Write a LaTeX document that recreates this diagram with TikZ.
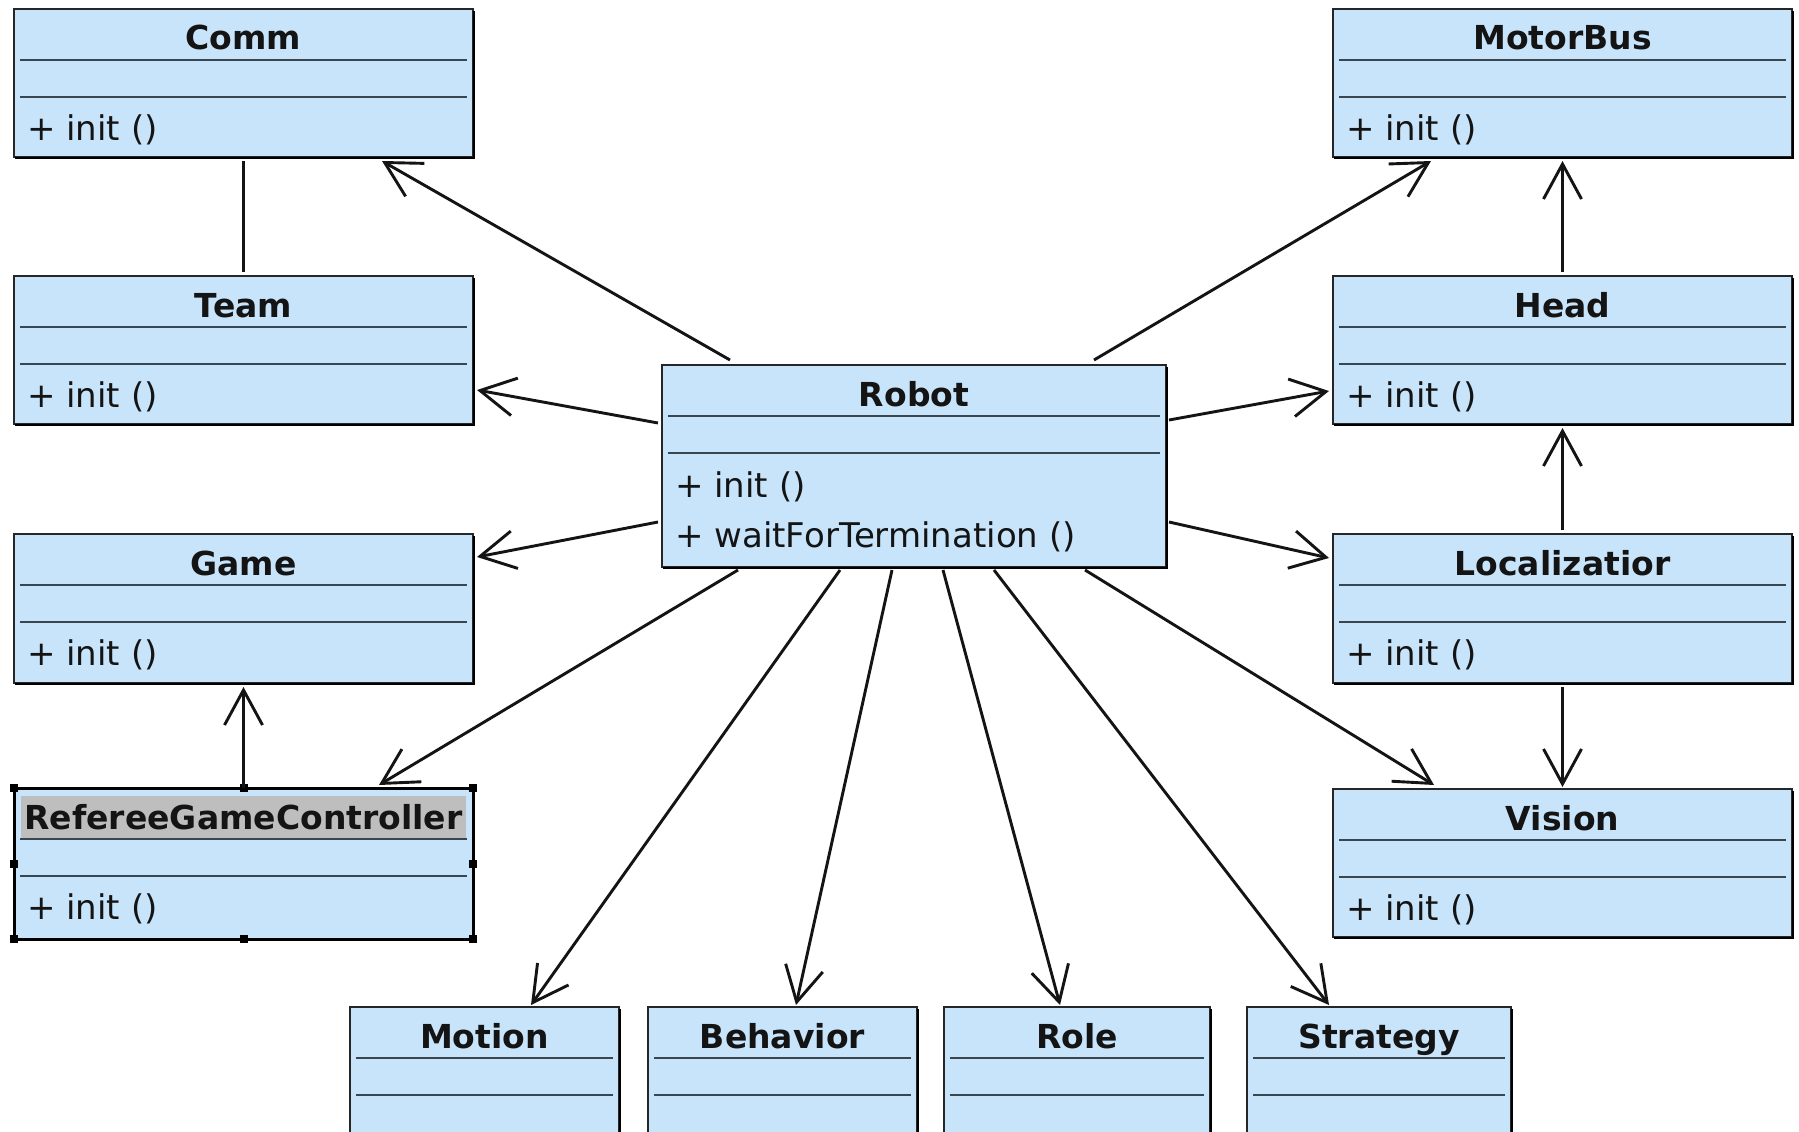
\documentclass[tikz,border=0pt]{standalone}
\usepackage{fontspec}
\setmainfont{DejaVu Sans}
\usetikzlibrary{arrows.meta,calc}

\definecolor{boxfill}{RGB}{199,228,251}
\definecolor{boxline}{RGB}{38,38,38}
\definecolor{divline}{RGB}{58,70,78}
\definecolor{hlgray}{RGB}{190,190,190}
\definecolor{ink}{RGB}{20,20,20}

% UML class box: [title options]{name}{left}{top}{width}{height}{title}
\newcommand\classbox[7][]{%
  \node[cls, minimum width=#5pt, minimum height=#6pt, anchor=north west] (#2) at (#3,#4) {};
  \draw[boxshade] ($(#2.north east)+(1.2,2)$) -- ($(#2.south east)+(1.2,1.2)$) -- ($(#2.south west)+(1,1.2)$);
  \node[clstitle,#1] (#2-title) at ($(#2.north)+(0,41)$) {#7};
  \draw[divider] ($(#2.north west)+(6,51)$) -- ($(#2.north east)+(-6,51)$);
  \draw[divider] ($(#2.north west)+(6,88)$) -- ($(#2.north east)+(-6,88)$);
}
% operation line: {class}{index}{baseline offset}{text}
\newcommand\classop[4]{%
  \node[op] (#1-op#2) at ($(#1.north west)+(13,#3)$) {#4};
}

\begin{document}
\begin{tikzpicture}[x=1pt,y=-1pt,
  cls/.style={draw=boxline, fill=boxfill, line width=2.2pt, inner sep=0pt, outer sep=0pt},
  boxshade/.style={draw=black, line width=1.6pt},
  clstitle/.style={anchor=base, inner sep=0pt, text=ink, font=\fontsize{33}{40}\selectfont\bfseries},
  op/.style={anchor=base west, inner sep=0pt, text=ink, font=\fontsize{34}{40}\selectfont},
  divider/.style={draw=divline, line width=2pt},
  assoc/.style={draw=ink, line width=2.9pt, -{Straight Barb[length=35pt,width=38pt]}},
  plainlink/.style={draw=ink, line width=2.9pt}
]
\useasboundingbox (0,0) rectangle (1799,1132);
\fill[white] (0,0) rectangle (1799,1132);
\clip (0,0) rectangle (1799,1132);

% left column
\classbox{comm}{14}{9}{459}{148}{Comm}
\classop{comm}{1}{131}{+ init ()}
\classbox{team}{14}{276}{459}{148}{Team}
\classop{team}{1}{131}{+ init ()}
\classbox{game}{14}{534}{459}{149}{Game}
\classop{game}{1}{131}{+ init ()}
\classbox[fill=hlgray, inner xsep=3pt, inner ysep=0pt, text height=33pt, text depth=11pt]{rgc}{14}{788}{459}{151}{RefereeGameController}
\classop{rgc}{1}{131}{+ init ()}

% right column
\classbox{motorbus}{1333}{9}{459}{148}{MotorBus}
\classop{motorbus}{1}{131}{+ init ()}
\classbox{head}{1333}{276}{459}{148}{Head}
\classop{head}{1}{131}{+ init ()}
\classbox{loc}{1333}{534}{459}{149}{Localizatior}
\classop{loc}{1}{131}{+ init ()}
\classbox{vision}{1333}{789}{459}{148}{Vision}
\classop{vision}{1}{131}{+ init ()}

% centre
\classbox{robot}{662}{365}{504}{202}{Robot}
\classop{robot}{1}{132}{+ init ()}
\classop{robot}{2}{182}{+ waitForTermination ()}

% bottom row
\classbox{motion}{350}{1007}{269}{140}{Motion}
\classbox{behavior}{648}{1007}{269}{140}{Behavior}
\classbox{role}{944}{1007}{266}{140}{Role}
\classbox{strategy}{1247}{1007}{264}{140}{Strategy}

% selection frame and handles on RefereeGameController
\draw[black, line width=3pt] (rgc.north west) rectangle (rgc.south east);
\foreach \a in {north west,north,north east,east,south east,south,south west,west}
  \fill[black] (rgc.\a) +(-4,-4) rectangle +(4,4);

% associations from Robot
\draw[assoc] ($(robot.north west)+(68,-5)$) -- ($(comm.south west)+(368,4)$);
\draw[assoc] ($(robot.north west)+(-4,58)$) -- ($(team.north east)+(4,114)$);
\draw[assoc] ($(robot.north west)+(-4,157)$) -- ($(game.north east)+(4,23)$);
\draw[assoc] ($(robot.south west)+(76,3)$) -- ($(rgc.north west)+(365,-3)$);
\draw[assoc] ($(robot.south west)+(178,3)$) -- ($(motion.north west)+(181,-2)$);
\draw[assoc] ($(robot.south west)+(230,3)$) -- ($(behavior.north west)+(148,-2)$);
\draw[assoc] ($(robot.south west)+(281,3)$) -- ($(role.north west)+(116,-2)$);
\draw[assoc] ($(robot.south west)+(332,3)$) -- ($(strategy.north west)+(82,-2)$);
\draw[assoc] ($(robot.south west)+(423,3)$) -- ($(vision.north west)+(101,-4)$);
\draw[assoc] ($(robot.north east)+(3,157)$) -- ($(loc.north west)+(-4,24)$);
\draw[assoc] ($(robot.north east)+(3,55)$) -- ($(head.north west)+(-4,115)$);
\draw[assoc] ($(robot.north west)+(432,-5)$) -- ($(motorbus.south west)+(98,4)$);

% other associations
\draw[assoc] ($(head.north)+(0,-4)$) -- ($(motorbus.south)+(0,4)$);
\draw[assoc] ($(loc.north)+(0,-4)$) -- ($(head.south)+(0,4)$);
\draw[assoc] ($(loc.south)+(0,4)$) -- ($(vision.north)+(0,-2)$);
\draw[assoc] (rgc.north) -- ($(game.south)+(0,4)$);
\draw[plainlink] ($(comm.south)+(0,4)$) -- ($(team.north)+(0,-4)$);
\end{tikzpicture}
\end{document}
